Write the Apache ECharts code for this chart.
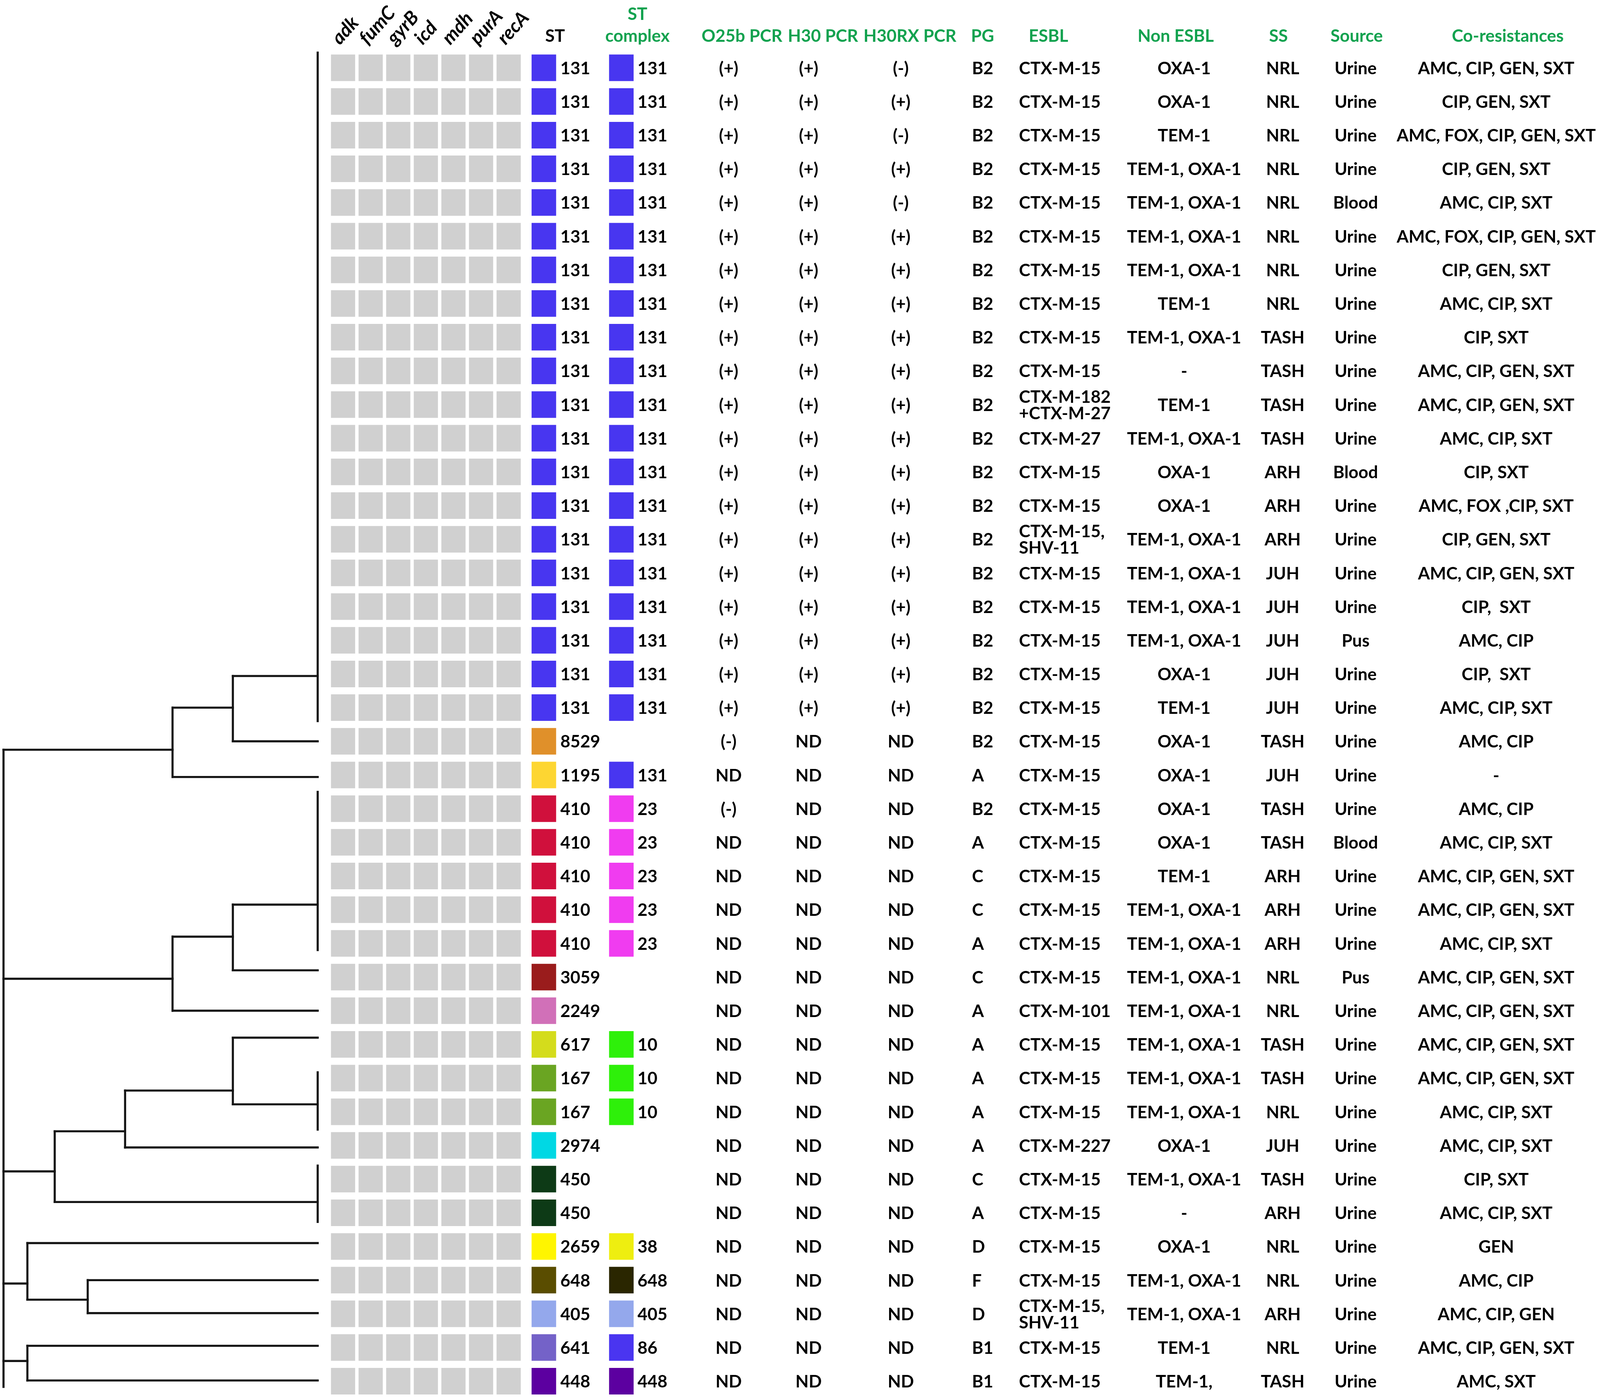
<!DOCTYPE html>
<html>
<head>
<meta charset="utf-8">
<script src="https://cdn.jsdelivr.net/npm/echarts@6/dist/echarts.min.js"></script>
<style>
    html, body {margin: 0; padding: 0; background: #fff; width: 100%; height: 100%; overflow: hidden;}
    #main {width: 100vw; height: 100vh;}
</style>
</head>
<body>
<div id="main"></div>
<script>
// ---- data (one entry per isolate, top to bottom) ----
const genes = ['adk', 'fumC', 'gyrB', 'icd', 'mdh', 'purA', 'recA'];

const st = [
    '131', '131', '131', '131', '131', '131', '131', '131', '131', '131',
    '131', '131', '131', '131', '131', '131', '131', '131', '131', '131',
    '8529', '1195', '410', '410', '410', '410', '410', '3059', '2249', '617',
    '167', '167', '2974', '450', '450', '2659', '648', '405', '641', '448'
];
const stComplex = [
    '131', '131', '131', '131', '131', '131', '131', '131', '131', '131',
    '131', '131', '131', '131', '131', '131', '131', '131', '131', '131',
    '', '131', '23', '23', '23', '23', '23', '', '', '10',
    '10', '10', '', '', '', '38', '648', '405', '86', '448'
];
const o25b = [
    '(+)', '(+)', '(+)', '(+)', '(+)', '(+)', '(+)', '(+)', '(+)', '(+)',
    '(+)', '(+)', '(+)', '(+)', '(+)', '(+)', '(+)', '(+)', '(+)', '(+)',
    '(-)', 'ND', '(-)', 'ND', 'ND', 'ND', 'ND', 'ND', 'ND', 'ND',
    'ND', 'ND', 'ND', 'ND', 'ND', 'ND', 'ND', 'ND', 'ND', 'ND'
];
const h30 = [
    '(+)', '(+)', '(+)', '(+)', '(+)', '(+)', '(+)', '(+)', '(+)', '(+)',
    '(+)', '(+)', '(+)', '(+)', '(+)', '(+)', '(+)', '(+)', '(+)', '(+)',
    'ND', 'ND', 'ND', 'ND', 'ND', 'ND', 'ND', 'ND', 'ND', 'ND',
    'ND', 'ND', 'ND', 'ND', 'ND', 'ND', 'ND', 'ND', 'ND', 'ND'
];
const h30rx = [
    '(-)', '(+)', '(-)', '(+)', '(-)', '(+)', '(+)', '(+)', '(+)', '(+)',
    '(+)', '(+)', '(+)', '(+)', '(+)', '(+)', '(+)', '(+)', '(+)', '(+)',
    'ND', 'ND', 'ND', 'ND', 'ND', 'ND', 'ND', 'ND', 'ND', 'ND',
    'ND', 'ND', 'ND', 'ND', 'ND', 'ND', 'ND', 'ND', 'ND', 'ND'
];
const pg = [
    'B2', 'B2', 'B2', 'B2', 'B2', 'B2', 'B2', 'B2', 'B2', 'B2',
    'B2', 'B2', 'B2', 'B2', 'B2', 'B2', 'B2', 'B2', 'B2', 'B2',
    'B2', 'A', 'B2', 'A', 'C', 'C', 'A', 'C', 'A', 'A',
    'A', 'A', 'A', 'C', 'A', 'D', 'F', 'D', 'B1', 'B1'
];
const esbl = [
    'CTX-M-15', 'CTX-M-15', 'CTX-M-15', 'CTX-M-15', 'CTX-M-15',
    'CTX-M-15', 'CTX-M-15', 'CTX-M-15', 'CTX-M-15', 'CTX-M-15',
    'CTX-M-182\n+CTX-M-27', 'CTX-M-27', 'CTX-M-15', 'CTX-M-15', 'CTX-M-15,\nSHV-11',
    'CTX-M-15', 'CTX-M-15', 'CTX-M-15', 'CTX-M-15', 'CTX-M-15',
    'CTX-M-15', 'CTX-M-15', 'CTX-M-15', 'CTX-M-15', 'CTX-M-15',
    'CTX-M-15', 'CTX-M-15', 'CTX-M-15', 'CTX-M-101', 'CTX-M-15',
    'CTX-M-15', 'CTX-M-15', 'CTX-M-227', 'CTX-M-15', 'CTX-M-15',
    'CTX-M-15', 'CTX-M-15', 'CTX-M-15,\nSHV-11', 'CTX-M-15', 'CTX-M-15'
];
const nonEsbl = [
    'OXA-1', 'OXA-1', 'TEM-1', 'TEM-1, OXA-1', 'TEM-1, OXA-1',
    'TEM-1, OXA-1', 'TEM-1, OXA-1', 'TEM-1', 'TEM-1, OXA-1', '-',
    'TEM-1', 'TEM-1, OXA-1', 'OXA-1', 'OXA-1', 'TEM-1, OXA-1',
    'TEM-1, OXA-1', 'TEM-1, OXA-1', 'TEM-1, OXA-1', 'OXA-1', 'TEM-1',
    'OXA-1', 'OXA-1', 'OXA-1', 'OXA-1', 'TEM-1',
    'TEM-1, OXA-1', 'TEM-1, OXA-1', 'TEM-1, OXA-1', 'TEM-1, OXA-1', 'TEM-1, OXA-1',
    'TEM-1, OXA-1', 'TEM-1, OXA-1', 'OXA-1', 'TEM-1, OXA-1', '-',
    'OXA-1', 'TEM-1, OXA-1', 'TEM-1, OXA-1', 'TEM-1', 'TEM-1,'
];
const ss = [
    'NRL', 'NRL', 'NRL', 'NRL', 'NRL', 'NRL', 'NRL', 'NRL', 'TASH', 'TASH',
    'TASH', 'TASH', 'ARH', 'ARH', 'ARH', 'JUH', 'JUH', 'JUH', 'JUH', 'JUH',
    'TASH', 'JUH', 'TASH', 'TASH', 'ARH', 'ARH', 'ARH', 'NRL', 'NRL', 'TASH',
    'TASH', 'NRL', 'JUH', 'TASH', 'ARH', 'NRL', 'NRL', 'ARH', 'NRL', 'TASH'
];
const source = [
    'Urine', 'Urine', 'Urine', 'Urine', 'Blood', 'Urine', 'Urine', 'Urine', 'Urine', 'Urine',
    'Urine', 'Urine', 'Blood', 'Urine', 'Urine', 'Urine', 'Urine', 'Pus', 'Urine', 'Urine',
    'Urine', 'Urine', 'Urine', 'Blood', 'Urine', 'Urine', 'Urine', 'Pus', 'Urine', 'Urine',
    'Urine', 'Urine', 'Urine', 'Urine', 'Urine', 'Urine', 'Urine', 'Urine', 'Urine', 'Urine'
];
const coResistances = [
    'AMC, CIP, GEN, SXT', 'CIP, GEN, SXT', 'AMC, FOX, CIP, GEN, SXT', 'CIP, GEN, SXT', 'AMC, CIP, SXT',
    'AMC, FOX, CIP, GEN, SXT', 'CIP, GEN, SXT', 'AMC, CIP, SXT', 'CIP, SXT', 'AMC, CIP, GEN, SXT',
    'AMC, CIP, GEN, SXT', 'AMC, CIP, SXT', 'CIP, SXT', 'AMC, FOX ,CIP, SXT', 'CIP, GEN, SXT',
    'AMC, CIP, GEN, SXT', 'CIP,  SXT', 'AMC, CIP', 'CIP,  SXT', 'AMC, CIP, SXT',
    'AMC, CIP', '-', 'AMC, CIP', 'AMC, CIP, SXT', 'AMC, CIP, GEN, SXT',
    'AMC, CIP, GEN, SXT', 'AMC, CIP, SXT', 'AMC, CIP, GEN, SXT', 'AMC, CIP, GEN, SXT', 'AMC, CIP, GEN, SXT',
    'AMC, CIP, GEN, SXT', 'AMC, CIP, SXT', 'AMC, CIP, SXT', 'CIP, SXT', 'AMC, CIP, SXT',
    'GEN', 'AMC, CIP', 'AMC, CIP, GEN', 'AMC, CIP, GEN, SXT', 'AMC, SXT'
];

// swatch colours per ST / ST complex
const stColors = {
    '131': '#4836f0', '8529': '#e0902a', '1195': '#fdd632', '410': '#d0103c',
    '3059': '#9a1c1c', '2249': '#d170b8', '617': '#d4dc1c', '167': '#6aa522',
    '2974': '#00d8e4', '450': '#0d3a16', '2659': '#fff500', '648': '#5a4d00',
    '405': '#94a8ec', '641': '#7462c8', '448': '#5c00a0'
};
const complexColors = {
    '131': '#4836f0', '23': '#f03cf0', '10': '#2ef00a', '38': '#eeee10',
    '648': '#2a2600', '405': '#94a8ec', '86': '#4a35f0', '448': '#5c00a0'
};

// dendrogram: y in row units (1 = first isolate), h = distance (root = 1)
// leaves with "span" are zero-distance clusters drawn as a bar
const dendroLeaves = [
    {id: 'st131', y: 19.06, span: [0.55, 20.4]},
    {id: 'st8529', y: 21},
    {id: 'st1195', y: 22.06},
    {id: 'st410', y: 25.85, span: [22.5, 27.2]},
    {id: 'st3059', y: 27.8},
    {id: 'st2249', y: 29},
    {id: 'st617', y: 29.8},
    {id: 'st167', y: 31.78, span: [30.83, 32.53]},
    {id: 'st2974', y: 33.06},
    {id: 'st450', y: 34.68, span: [33.6, 35.27]},
    {id: 'st2659', y: 35.9},
    {id: 'st648', y: 37},
    {id: 'st405', y: 37.98},
    {id: 'st641', y: 38.95},
    {id: 'st448', y: 39.98}
];
const dendroNodes = [
    {id: 'a', h: 0.27, y: 20.0, kids: ['st131', 'st8529']},
    {id: 'b', h: 0.462, y: 21.25, kids: ['a', 'st1195']},
    {id: 'd', h: 0.27, y: 26.8, kids: ['st410', 'st3059']},
    {id: 'e', h: 0.462, y: 28.05, kids: ['d', 'st2249']},
    {id: 'g', h: 0.27, y: 31.37, kids: ['st617', 'st167']},
    {id: 'hh', h: 0.613, y: 32.58, kids: ['g', 'st2974']},
    {id: 'i', h: 0.837, y: 33.77, kids: ['hh', 'st450']},
    {id: 'j', h: 0.732, y: 37.58, kids: ['st648', 'st405']},
    {id: 'k', h: 0.924, y: 37.1, kids: ['st2659', 'j']},
    {id: 'l', h: 0.924, y: 39.4, kids: ['st641', 'st448']},
    {id: 'root', h: 1, y: 30, kids: ['b', 'e', 'i', 'k', 'l'], ext: 40.17}
];

// ---- layout / style (designed on a 4563 x 3578 canvas, scaled to the real one) ----
const chart = echarts.init(document.getElementById('main'));
const S = chart.getWidth() / 4563;
const SY = chart.getHeight() / 3578;

const ROW_TOP = 130.4 * SY;
const ROW_H = 3448 * SY;
const FONT = 'Lato, "Open Sans", sans-serif';
const FS = 49 * S;
const GREEN = '#12a24f';
const CELL_W = 69 * S;
const CELL_H = 68 * SY;
const rowIdx = st.map((_, i) => String(i + 1));

// columns: header centre (hx), value anchor offset (dx), text align
const columns = [
    {header: 'ST', color: '#000', hx: 1583, dx: 15, align: 'left', values: st, swatch: stColors, sdx: -67},
    {header: 'ST\ncomplex', color: GREEN, hx: 1818, dx: 0, align: 'left', values: stComplex, swatch: complexColors, sdx: -81},
    {header: 'O25b PCR', color: GREEN, hx: 2116, dx: -38, align: 'center', values: o25b},
    {header: 'H30 PCR', color: GREEN, hx: 2347, dx: -41, align: 'center', values: h30},
    {header: 'H30RX PCR', color: GREEN, hx: 2595, dx: -26, align: 'center', values: h30rx},
    {header: 'PG', color: GREEN, hx: 2802, dx: -30, align: 'left', values: pg},
    {header: 'ESBL', color: GREEN, hx: 2990, dx: -84, align: 'left', values: esbl},
    {header: 'Non ESBL', color: GREEN, hx: 3353, dx: 24, align: 'center', values: nonEsbl},
    {header: 'SS', color: GREEN, hx: 3646, dx: 12, align: 'center', values: ss},
    {header: 'Source', color: GREEN, hx: 3869, dx: -3, align: 'center', values: source},
    {header: 'Co-resistances', color: GREEN, hx: 4300, dx: -33, align: 'center', values: coResistances}
];

// ---- build dendrogram segments from the tree ----
const dendroById = {};
dendroLeaves.forEach(l => dendroById[l.id] = Object.assign({h: 0}, l));
dendroNodes.forEach(n => dendroById[n.id] = n);
const dendroSegments = [];
dendroLeaves.forEach(l => {
    if (l.span) dendroSegments.push([0, l.span[0], 0, l.span[1]]);
});
dendroNodes.forEach(n => {
    const ys = n.kids.map(k => dendroById[k].y);
    const yMax = Math.max(...ys, n.ext || -Infinity);
    dendroSegments.push([n.h, Math.min(...ys), n.h, yMax]);
    n.kids.forEach(k => {
        const kid = dendroById[k];
        dendroSegments.push([n.h, kid.y, kid.h, kid.y]);
    });
});

// ---- grids / axes ----
const grids = [
    {left: 10 * S, top: ROW_TOP, width: 896 * S, height: ROW_H},
    {left: 939 * S, top: ROW_TOP, width: 551 * S, height: ROW_H}
];
const xAxes = [
    {gridIndex: 0, type: 'value', min: 0, max: 1, inverse: true, show: false},
    {gridIndex: 1, type: 'category', data: genes, show: false}
];
const yAxes = [
    {gridIndex: 0, type: 'value', min: 0.5, max: 40.5, inverse: true, show: false},
    {gridIndex: 1, type: 'category', data: rowIdx, inverse: true, show: false}
];

const series = [
    {
        type: 'custom', xAxisIndex: 0, yAxisIndex: 0, silent: true, clip: false,
        data: dendroSegments,
        renderItem: (params, api) => {
            const p1 = api.coord([api.value(0), api.value(1)]);
            const p2 = api.coord([api.value(2), api.value(3)]);
            return {
                type: 'line',
                shape: {x1: p1[0], y1: p1[1], x2: p2[0], y2: p2[1]},
                style: {stroke: '#151515', lineWidth: 6 * S, lineCap: 'square'}
            };
        }
    },
    {
        // grey allele cells
        type: 'custom', xAxisIndex: 1, yAxisIndex: 1, silent: true,
        data: rowIdx.flatMap((_, i) => genes.map((g, j) => [j, i])),
        renderItem: (params, api) => {
            const c = api.coord([api.value(0), api.value(1)]);
            return {
                type: 'rect',
                shape: {x: c[0] - CELL_W / 2, y: c[1] - CELL_H / 2, width: CELL_W, height: CELL_H},
                style: {fill: '#d0d0d0'}
            };
        }
    },
    {
        // slanted gene names above the cells
        type: 'custom', xAxisIndex: 1, yAxisIndex: 1, silent: true, clip: false,
        data: genes.map((g, j) => [j, 0]),
        renderItem: (params, api) => {
            const c = api.coord([api.value(0), 0]);
            const top = c[1] - api.size([1, 1])[1] / 2;
            return {
                type: 'text',
                x: c[0] - 2 * S,
                y: top - 8 * SY,
                rotation: 48 * Math.PI / 180,
                style: {
                    text: genes[params.dataIndex], align: 'left', verticalAlign: 'bottom',
                    fill: '#000', fontFamily: FONT, fontSize: 54 * S,
                    fontStyle: 'italic', fontWeight: 'bold'
                }
            };
        }
    }
];

columns.forEach(col => {
    const gi = grids.length;
    grids.push({left: (col.hx - 100) * S, top: ROW_TOP, width: 200 * S, height: ROW_H});
    xAxes.push({
        gridIndex: gi, type: 'category', data: [col.header], position: 'top',
        axisLine: {show: false}, axisTick: {show: false}, splitLine: {show: false},
        axisLabel: {
            interval: 0, margin: 10 * SY, color: col.color, fontFamily: FONT,
            fontSize: FS, fontWeight: 'bold', lineHeight: 56 * SY
        }
    });
    yAxes.push({gridIndex: gi, type: 'category', data: rowIdx, inverse: true, show: false});
    series.push({
        type: 'custom', xAxisIndex: gi, yAxisIndex: gi, silent: true, clip: false,
        data: col.values.map((v, i) => [0, i]),
        renderItem: (params, api) => {
            const c = api.coord([0, api.value(1)]);
            const text = col.values[params.dataIndex];
            const children = [];
            if (col.swatch && text) {
                children.push({
                    type: 'rect',
                    shape: {x: c[0] + col.sdx * S, y: c[1] - CELL_H / 2, width: CELL_W + S, height: CELL_H},
                    style: {fill: col.swatch[text]}
                });
            }
            children.push({
                type: 'text',
                style: {
                    text: text, x: c[0] + col.dx * S, y: c[1] + 2 * SY,
                    align: col.align, verticalAlign: 'middle',
                    fill: '#000', fontFamily: FONT, fontSize: FS, fontWeight: 'bold', lineHeight: 42 * SY
                }
            });
            return {type: 'group', children: children};
        }
    });
});

chart.setOption({
    animation: false,
    backgroundColor: '#fff',
    grid: grids,
    xAxis: xAxes,
    yAxis: yAxes,
    series: series
});
window.addEventListener('resize', () => chart.resize());
</script>
</body>
</html>
